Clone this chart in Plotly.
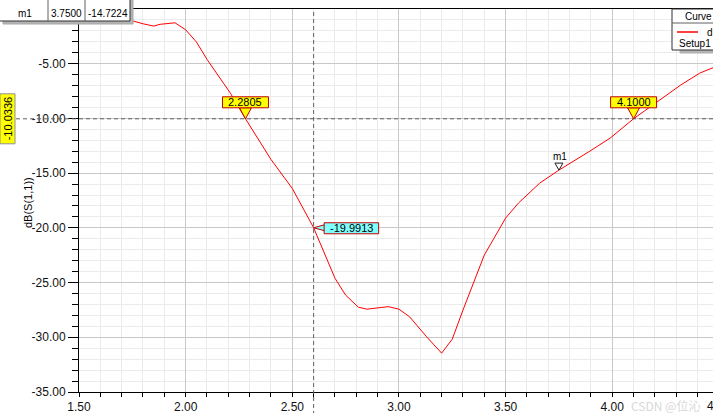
import plotly.graph_objects as go

# ---------------- data ----------------
freq_ghz = [1.74, 1.75, 1.80, 1.85, 1.88, 1.95, 2.00, 2.05, 2.10, 2.16, 2.21,
            2.2805, 2.40, 2.50, 2.60, 2.70, 2.75, 2.81, 2.85, 2.95, 3.00, 3.05,
            3.13, 3.20, 3.25, 3.30, 3.35, 3.40, 3.50, 3.56, 3.66, 3.75, 3.89,
            3.99, 4.10, 4.19, 4.32, 4.41, 4.47, 4.50]
s11_db = [-1.00, -1.08, -1.35, -1.56, -1.40, -1.26, -1.90, -3.00, -4.60, -6.30, -7.70,
          -10.03, -13.75, -16.40, -19.99, -24.60, -26.15, -27.25, -27.43, -27.20, -27.43, -28.13,
          -29.96, -31.45, -30.17, -27.52, -25.05, -22.49, -19.11, -17.74, -15.91, -14.72, -13.05,
          -11.80, -10.03, -8.78, -6.96, -5.86, -5.40, -5.15]

ref_level = -10.0336
bw_markers = [2.2805, 4.1000]
cursor_x = 2.60
cursor_y = -19.9913
m1_x, m1_y = 3.7500, -14.7224

x_tick_labels = ["1.50", "2.00", "2.50", "3.00", "3.50", "4.00"]
y_tick_labels = ["-35.00", "-30.00", "-25.00", "-20.00", "-15.00", "-10.00", "-5.00"]

FONT = "Liberation Sans, Arial, sans-serif"
RED = "#ff0000"
BORDER_RED = "#c00000"

W, H = 713, 413
L, T, B = 79, 9, 21
plot_w = W - L
plot_h = H - T - B
px_per_ghz = 213.3

fig = go.Figure()
fig.add_trace(go.Scatter(x=freq_ghz, y=s11_db, mode="lines",
                         line=dict(color=RED, width=1), showlegend=False,
                         hoverinfo="skip"))

shapes = []
ann = []


def pshape(kind, xref, yref, xa, ya, color, fill=None, dash=None, width=1, **kw):
    d = dict(type=kind, xref=xref, yref=yref, xsizemode="pixel", ysizemode="pixel",
             xanchor=xa, yanchor=ya, layer="above",
             line=dict(color=color, width=width, dash=dash))
    if fill:
        d["fillcolor"] = fill
    d.update(kw)
    shapes.append(d)


def text(t, xref, yref, x, y, xs=0, ys=0, size=11, color="#000", xanchor="center",
         yanchor="middle", angle=0, family=FONT):
    ann.append(dict(text=t, xref=xref, yref=yref, x=x, y=y, xshift=xs, yshift=ys,
                    showarrow=False, xanchor=xanchor, yanchor=yanchor, textangle=angle,
                    font=dict(family=family, size=size, color=color)))


# reference level dashed line (extends left to the label)
pshape("line", "paper", "y", 0, ref_level, "#606060", dash="4px,3px",
       x0=-63, x1=plot_w + 10, y0=0, y1=0)
# vertical cursor line (continues below the axis)
pshape("line", "x", "paper", cursor_x, 0, "#606060", dash="4px,3px",
       x0=0, x1=0, y0=-B - 2, y1=plot_h)

# left yellow level label
pshape("rect", "paper", "y", 0, ref_level, "#909090", fill="#ffff00",
       x0=-79, x1=-64, y0=-25, y1=25)
text(f"{ref_level:.4f}", "paper", "y", 0, ref_level, xs=-71.5, ys=0, size=11, angle=-90)

# bandwidth markers (yellow)
for bx in bw_markers:
    pshape("path", "x", "y", bx, ref_level, BORDER_RED, fill="#ffff00",
           path="M -6 11 L 0 0 L 6 11 Z")
    pshape("rect", "x", "y", bx, ref_level, BORDER_RED, fill="#ffff00",
           x0=-23, x1=23, y0=11, y1=22)
    text(f"{bx:.4f}", "x", "y", bx, ref_level, xs=0, ys=16.5, size=11)

# cursor readout (cyan)
pshape("path", "x", "y", cursor_x, cursor_y, BORDER_RED, fill="#80ffff",
       path="M 0 0 L 11 3 L 11 -3 Z")
pshape("rect", "x", "y", cursor_x, cursor_y, BORDER_RED, fill="#80ffff",
       x0=10.5, x1=65, y0=5, y1=-6)
text(f"{cursor_y:.4f}", "x", "y", cursor_x, cursor_y, xs=38, ys=-0.5, size=11)

# m1 marker
pshape("path", "x", "y", m1_x, m1_y, "#202020", path="M -4 7 L 4 7 L 0 0 Z")
text("m1", "x", "y", m1_x, m1_y, xs=1.5, ys=14, size=10)

# marker table (top-left)
pshape("rect", "paper", "paper", 0, 1, "#a8a8a8", fill="#b4b4b4",
       x0=-76, x1=54, y0=-15, y1=30)
pshape("rect", "paper", "paper", 0, 1, "#303030", fill="#ffffff",
       x0=-80, x1=51, y0=-12, y1=30)
for vx in (-31, 6):
    pshape("line", "paper", "paper", 0, 1, "#606060", x0=vx, x1=vx, y0=-12, y1=30)
text("m1", "paper", "paper", 0, 1, xs=-54, ys=-4, size=10)
text(f"{m1_x:.4f}", "paper", "paper", 0, 1, xs=-13, ys=-4, size=10)
text(f"{m1_y:.4f}", "paper", "paper", 0, 1, xs=29, ys=-4, size=10)

# curve info box (top-right)
pshape("rect", "paper", "paper", 1, 1, "#b0b0b0", fill="#b4b4b4",
       x0=-33, x1=60, y0=-44, y1=-38)
pshape("rect", "paper", "paper", 1, 1, "#303030", fill="#ffffff",
       x0=-41, x1=60, y0=-41, y1=0)
pshape("line", "paper", "paper", 1, 1, "#606060", x0=-41, x1=60, y0=-14, y1=-14)
pshape("line", "paper", "paper", 1, 1, RED, width=1.5, x0=-36, x1=-15, y0=-23, y1=-23)
text("Curve Info", "paper", "paper", 1, 1, xs=-30, ys=-7, size=10, xanchor="left")
text("dB(S(1,1))", "paper", "paper", 1, 1, xs=-8, ys=-23, size=10, xanchor="left")
text("Setup1 : Sweep", "paper", "paper", 1, 1, xs=-36, ys=-34, size=10, xanchor="left")

# axis titles
text("dB(S(1,1))", "paper", "paper", 0, 0.5, xs=-51, ys=-2.5, size=11, angle=-90)
text("Freq [GHz]", "paper", "paper", (400 - L) / plot_w, 0, ys=-17, size=11,
     yanchor="top")
# title sliver at top
text("S11", "paper", "paper", (375 - L) / plot_w, 1, ys=6, size=13, yanchor="bottom")
# partially visible last tick label
text("4.50", "paper", "paper", (3.0 * px_per_ghz) / plot_w, 0, ys=-5,
     size=12, color="#111", yanchor="top")
# watermark
text("CSDN @位沁", "paper", "paper", (665 - L) / plot_w, 0, ys=-3, size=12,
     color="#d8d8d8", yanchor="top", family="Noto Sans CJK SC, sans-serif")

x_max = 1.5 + plot_w / px_per_ghz

fig.update_layout(
    width=W, height=H,
    margin=dict(l=L, r=0, t=T, b=B, pad=0),
    paper_bgcolor="white", plot_bgcolor="white",
    font=dict(family=FONT, size=12, color="#111"),
    shapes=shapes, annotations=ann, showlegend=False,
    xaxis=dict(range=[1.5, x_max], tickmode="array",
               tickvals=[float(v) for v in x_tick_labels], ticktext=x_tick_labels,
               showline=True, linecolor="#000", linewidth=1, mirror=True,
               ticks="outside", ticklen=4, tickcolor="#000",
               showgrid=True, gridcolor="#c8c8c8", gridwidth=1, zeroline=False,
               tickfont=dict(size=12),
               minor=dict(dtick=0.1, tick0=1.5, showgrid=True, gridcolor="#ebebeb",
                          ticks="outside", ticklen=4, tickcolor="#000")),
    yaxis=dict(range=[-35, 0], tickmode="array",
               tickvals=[float(v) for v in y_tick_labels], ticktext=y_tick_labels,
               showline=True, linecolor="#000", linewidth=1,
               ticks="outside", ticklen=10, tickcolor="#000",
               showgrid=True, gridcolor="#c8c8c8", gridwidth=1, zeroline=False,
               tickfont=dict(size=12),
               minor=dict(dtick=1, tick0=0, showgrid=True, gridcolor="#ebebeb",
                          ticks="outside", ticklen=6, tickcolor="#000")),
)

fig.write_html("out.html", config={"displayModeBar": False, "staticPlot": True})

# remove the default page margin so the figure sits at the window's top-left
with open("out.html", encoding="utf-8") as f:
    html = f.read()
html = html.replace("<head>", "<head><style>html,body{margin:0;padding:0;overflow:hidden;}</style>", 1)
with open("out.html", "w", encoding="utf-8") as f:
    f.write(html)
